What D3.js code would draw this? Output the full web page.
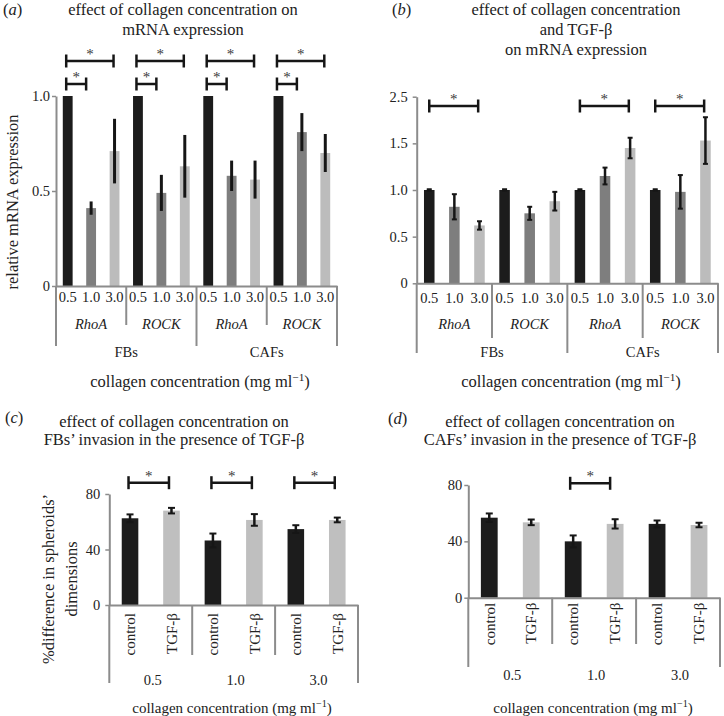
<!DOCTYPE html>
<html><head><meta charset="utf-8">
<script src="https://cdn.jsdelivr.net/npm/d3@7"></script>
<style>
body{margin:0;background:#fff;}
svg{display:block;}
</style></head><body>
<svg id="chart" width="724" height="716"></svg>
<script>
// ---------------- DATA ----------------
const cellTypes = ["FBs", "CAFs"];
const genes = ["RhoA", "ROCK"];
const concentrations = ["0.5", "1.0", "3.0"];

// panel (a): relative mRNA expression, order FBs-RhoA, FBs-ROCK, CAFs-RhoA, CAFs-ROCK × 0.5/1.0/3.0
const aValues = [1.0, 0.41, 0.71, 1.0, 0.49, 0.63, 1.0, 0.58, 0.56, 1.0, 0.81, 0.70];
const aErrors = [0, 0.035, 0.17, 0, 0.095, 0.165, 0, 0.08, 0.10, 0, 0.10, 0.10];
const aTickValues = [0, 0.5, 1.0];
const aTickLabels = ["0", "0.5", "1.0"];
const aSignificance = [[0, 1], [0, 2], [3, 4], [3, 5], [6, 7], [6, 8], [9, 10], [9, 11]];

// panel (b): with TGF-β
const bValues = [1.0, 0.82, 0.62, 1.0, 0.75, 0.88, 1.0, 1.15, 1.45, 1.0, 0.98, 1.53];
const bErrors = [0.008, 0.135, 0.045, 0.008, 0.07, 0.10, 0.008, 0.09, 0.11, 0.008, 0.18, 0.25];
const bTickValues = [0, 0.5, 1.0, 1.5, 2.0];
const bTickLabels = ["0", "0.5", "1.0", "1.5", "2.5"];
const bSignificance = [[0, 2], [6, 8], [9, 11]];

// panels (c) and (d): % difference in spheroids' dimensions
const collagenLevels = ["0.5", "1.0", "3.0"];
const treatments = ["control", "TGF-β"];
const cValues = [62.5, 68.0, 46.5, 61.3, 54.7, 61.3];
const cErrors = [2.8, 2.0, 5.0, 4.2, 2.8, 1.7];
const cSignificance = [[0, 1], [2, 3], [4, 5]];
const dValues = [56.8, 53.5, 40.0, 52.4, 52.4, 51.6];
const dErrors = [3.0, 2.0, 4.2, 3.3, 2.4, 1.6];
const dSignificance = [[2, 3]];
const invasionTicks = [0, 40, 80];

// ---------------- STYLE ----------------
const FONT = '"Liberation Serif","Times New Roman",Times,serif';
const TEXT = "#222";
const AXIS = "#8c8c8c";
const INK = "#161616";
const exprColors = ["#1c1c1c", "#7e7e7e", "#bcbcbc"];
const invColors = ["#1c1c1c", "#bfbfbf"];

const svg = d3.select("#chart").attr("font-family", FONT);

function txt(parent, x, y, s, o = {}) {
  return parent.append("text").attr("x", x).attr("y", y)
    .attr("text-anchor", o.anchor || "middle")
    .attr("font-size", o.size || 16.5)
    .attr("font-style", o.italic ? "italic" : null)
    .attr("fill", o.fill || TEXT)
    .text(s);
}
function panelLabel(x, y, letter) {
  const t = svg.append("text").attr("x", x).attr("y", y).attr("font-size", 16.5).attr("fill", TEXT);
  t.append("tspan").text("(");
  t.append("tspan").attr("font-style", "italic").text(letter);
  t.append("tspan").text(")");
}
function xTitle(parent, x, y, size) {
  const t = parent.append("text").attr("x", x).attr("y", y).attr("text-anchor", "middle")
    .attr("font-size", size).attr("fill", TEXT);
  t.append("tspan").text("collagen concentration (mg ml");
  t.append("tspan").attr("font-size", size * 0.68).attr("dy", -size * 0.38).text("−1");
  t.append("tspan").attr("dy", size * 0.38).text(")");
}
function styleAxis(g, fs) {
  g.attr("font-family", FONT).attr("font-size", fs);
  g.select(".domain").attr("stroke", AXIS).attr("stroke-width", 2);
  g.selectAll(".tick line").attr("stroke", AXIS).attr("stroke-width", 1.5);
  g.selectAll(".tick text").attr("fill", TEXT);
}
function vline(g, x, y1, y2) {
  g.append("line").attr("x1", x).attr("x2", x).attr("y1", y1).attr("y2", y2)
    .attr("stroke", AXIS).attr("stroke-width", 2);
}
function bracket(g, x1, x2, yL) {
  const cap = 6.5;
  g.append("line").attr("x1", x1).attr("x2", x2).attr("y1", yL).attr("y2", yL)
    .attr("stroke", INK).attr("stroke-width", 2.5);
  [x1, x2].forEach(xx => g.append("line").attr("x1", xx).attr("x2", xx)
    .attr("y1", yL - cap).attr("y2", yL + cap).attr("stroke", INK).attr("stroke-width", 2.5));
  txt(g, (x1 + x2) / 2, yL - 2, "*", { size: 15, fill: "#3a3a3a" });
}
function errorBars(g, data, x, y, key, capW, lw) {
  const cx = d => x(d[key]) + x.bandwidth() / 2;
  g.selectAll(null).data(data).join("line")
    .attr("x1", cx).attr("x2", cx)
    .attr("y1", d => y(d.v - d.e)).attr("y2", d => y(d.v + d.e))
    .attr("stroke", INK).attr("stroke-width", lw);
  if (capW > 0) {
    ["lo", "hi"].forEach(side => {
      g.selectAll(null).data(data).join("line")
        .attr("x1", d => cx(d) - capW / 2).attr("x2", d => cx(d) + capW / 2)
        .attr("y1", d => y(side === "lo" ? d.v - d.e : d.v + d.e))
        .attr("y2", d => y(side === "lo" ? d.v - d.e : d.v + d.e))
        .attr("stroke", INK).attr("stroke-width", 2);
    });
  }
}

// ---------------- PANELS (a) (b) ----------------
function expressionPanel(p) {
  const keys = [];
  cellTypes.forEach(ct => genes.forEach(gn => concentrations.forEach(c => keys.push(ct + "|" + gn + "|" + c))));
  const x = d3.scaleBand().domain(keys).range(p.xRange).paddingInner(0.58).paddingOuter(0.29);
  const y = d3.scaleLinear().domain(p.yDomain).range(p.yRange);
  const g = svg.append("g");
  const data = keys.map((k, i) => ({ k, v: p.values[i], e: p.errors[i], c: concentrations.indexOf(k.split("|")[2]) }));

  g.selectAll("rect").data(data).join("rect")
    .attr("x", d => x(d.k)).attr("width", x.bandwidth())
    .attr("y", d => y(d.v)).attr("height", d => y(0) - y(d.v))
    .attr("fill", d => exprColors[d.c]);
  errorBars(g, data.filter(d => d.e > 0), x, y, "k", p.capW, p.errW);

  const ya = g.append("g").attr("transform", `translate(${p.xRange[0]},0)`)
    .call(d3.axisLeft(y).tickValues(p.tickValues).tickFormat((d, i) => p.tickLabels[i])
      .tickSize(4).tickSizeOuter(0).tickPadding(p.yPad));
  styleAxis(ya, 14.5);

  const xa = g.append("g").attr("transform", `translate(0,${y(0)})`)
    .call(d3.axisBottom(x).tickFormat(k => k.split("|")[2]).tickSize(0).tickSizeOuter(0).tickPadding(p.xPad));
  styleAxis(xa, 14.5);

  const step = x.step(), x0 = p.xRange[0];
  for (let j = 0; j <= 4; j++) vline(g, x0 + j * 3 * step, y(0), j % 2 === 0 ? p.longY : p.shortY);
  for (let j = 0; j < 4; j++) txt(g, x0 + (j + 0.5) * 3 * step, p.geneY, genes[j % 2], { size: 14.5, italic: true });
  for (let m = 0; m < 2; m++) txt(g, x0 + (m + 0.5) * 6 * step, p.cellY, cellTypes[m], { size: 14.5 });
  xTitle(g, p.titleX, p.titleY, 16.5);

  const cx = i => x(keys[i]) + x.bandwidth() / 2;
  p.sig.forEach(([a, b]) => {
    const inner = (b - a === 1) && p.innerY !== undefined;
    bracket(g, cx(a) + p.sOff, cx(b) + (inner ? p.eOffInner : p.eOff), inner ? p.innerY : p.outerY);
  });
}

expressionPanel({
  values: aValues, errors: aErrors, tickValues: aTickValues, tickLabels: aTickLabels, sig: aSignificance,
  xRange: [56, 337], yDomain: [0, 1], yRange: [286, 96], yPad: 2, xPad: 6,
  capW: 0, errW: 3, longY: 346, shortY: 325, geneY: 329, cellY: 357, titleX: 200, titleY: 387,
  outerY: 61, innerY: 84, sOff: -1.5, eOff: -1, eOffInner: -5
});
expressionPanel({
  values: bValues, errors: bErrors, tickValues: bTickValues, tickLabels: bTickLabels, sig: bSignificance,
  xRange: [416.7, 718], yDomain: [0, 2], yRange: [283.3, 96.7], yPad: 5, xPad: 9,
  capW: 5, errW: 2.5, longY: 353, shortY: 338, geneY: 329, cellY: 357, titleX: 571, titleY: 387,
  outerY: 106, sOff: 0, eOff: -1.3
});

// ---------------- PANELS (c) (d) ----------------
function invasionPanel(p) {
  const keys = [];
  collagenLevels.forEach(c => treatments.forEach(t => keys.push(c + "|" + t)));
  const x = d3.scaleBand().domain(keys).range(p.xRange).paddingInner(0.6).paddingOuter(0.3);
  const y = d3.scaleLinear().domain([0, 80]).range(p.yRange);
  const g = svg.append("g");
  const data = keys.map((k, i) => ({ k, v: p.values[i], e: p.errors[i], t: treatments.indexOf(k.split("|")[1]) }));

  g.selectAll("rect").data(data).join("rect")
    .attr("x", d => x(d.k)).attr("width", x.bandwidth())
    .attr("y", d => y(d.v)).attr("height", d => y(0) - y(d.v))
    .attr("fill", d => invColors[d.t]);
  errorBars(g, data, x, y, "k", 7, 2.5);

  const ya = g.append("g").attr("transform", `translate(${p.xRange[0]},0)`)
    .call(d3.axisLeft(y).tickValues(invasionTicks).tickSize(4).tickSizeOuter(0).tickPadding(p.yPad));
  styleAxis(ya, 14.5);

  const xa = g.append("g").attr("transform", `translate(0,${y(0)})`)
    .call(d3.axisBottom(x).tickFormat(k => k.split("|")[1]).tickSize(0).tickSizeOuter(0));
  styleAxis(xa, 15);
  xa.selectAll(".tick text").attr("y", 0).attr("x", -p.rotPad).attr("dy", "0.35em")
    .attr("transform", "rotate(-90)").attr("text-anchor", "end");

  const step = x.step(), x0 = p.xRange[0];
  for (let j = 0; j <= 3; j++) vline(g, x0 + j * 2 * step, y(0), (j === 0 || j === 3) ? p.longY : p.shortY);
  for (let j = 0; j < 3; j++) txt(g, x0 + (j + 0.5) * 2 * step + 2, p.groupY, collagenLevels[j], { size: 14.5 });
  xTitle(g, p.titleX, p.titleY, 15);

  const cx = i => x(keys[i]) + x.bandwidth() / 2;
  p.sig.forEach(([a, b]) => bracket(g, cx(a) + p.sOff, cx(b) + p.eOff, p.brY));
}

invasionPanel({
  values: cValues, errors: cErrors, sig: cSignificance,
  xRange: [109.3, 358], yRange: [605, 494], yPad: 5, rotPad: 8,
  longY: 683, shortY: 655, groupY: 685, titleX: 232, titleY: 713,
  brY: 482.7, sOff: -1.5, eOff: -2.5
});
invasionPanel({
  values: dValues, errors: dErrors, sig: dSignificance,
  xRange: [468.3, 720], yRange: [597.7, 485], yPad: 2, rotPad: 5,
  longY: 667, shortY: 644, groupY: 680, titleX: 593, titleY: 713,
  brY: 483.3, sOff: -3, eOff: -5
});

// ---------------- TITLES / LABELS ----------------
panelLabel(3, 14.5, "a");
txt(svg, 183, 14.5, "effect of collagen concentration on");
txt(svg, 183, 34.5, "mRNA expression");
svg.append("text").attr("transform", "translate(18,202) rotate(-90)").attr("text-anchor", "middle")
  .attr("font-size", 16.5).attr("fill", TEXT).text("relative mRNA expression");

panelLabel(392, 14.5, "b");
txt(svg, 576, 14.5, "effect of collagen concentration");
txt(svg, 576, 34.5, "and TGF-β");
txt(svg, 576, 54.5, "on mRNA expression");

panelLabel(5, 423, "c");
txt(svg, 174, 426.7, "effect of collagen concentration on");
txt(svg, 174, 445, "FBs’ invasion in the presence of TGF-β");
svg.append("text").attr("transform", "translate(54,579) rotate(-90)").attr("text-anchor", "middle")
  .attr("font-size", 16.5).attr("fill", TEXT).text("%difference in spheroids’");
svg.append("text").attr("transform", "translate(77,579) rotate(-90)").attr("text-anchor", "middle")
  .attr("font-size", 16.5).attr("fill", TEXT).text("dimensions");

panelLabel(388, 424, "d");
txt(svg, 560, 426.7, "effect of collagen concentration on");
txt(svg, 560, 445, "CAFs’ invasion in the presence of TGF-β");
</script>
</body></html>
